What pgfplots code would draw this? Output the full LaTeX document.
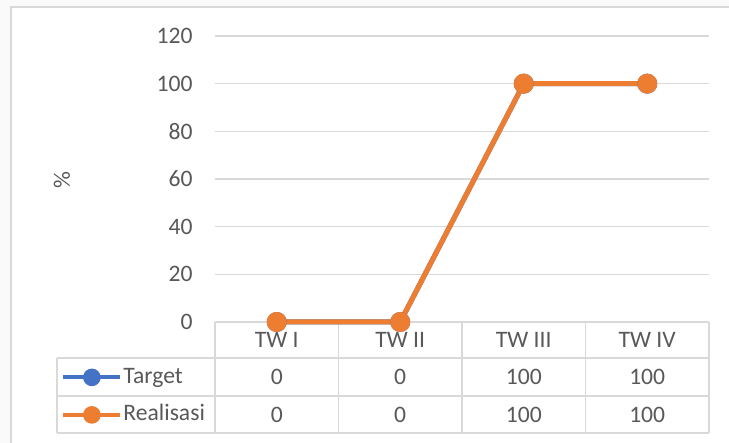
\documentclass[border=0pt]{standalone}
\usepackage{fontspec}
\setmainfont{Carlito}
\usepackage{pgfplots}
\pgfplotsset{compat=1.18}

\definecolor{xlblue}{HTML}{4472C4}
\definecolor{xlorange}{HTML}{ED7D31}
\definecolor{xlgrid}{HTML}{D9D9D9}
\definecolor{xltext}{HTML}{595959}
\definecolor{xlback}{HTML}{FAFAFA}

\newcommand{\xlfont}{\fontsize{11.8}{14}\selectfont}

\begin{document}
\begin{tikzpicture}
    \clip (0,0) rectangle (364.5pt,221.5pt);
    \fill[xlback] (0,0) rectangle (364.5pt,221.5pt);
    % chart frame
    \draw[xlgrid, line width=1pt, fill=white] (5.5pt,-10pt) rectangle (380pt,218pt);

    % data table grid
    \begin{scope}[x=1pt, y=1pt, xlgrid, line width=0.75pt]
        \draw (28.5,42.5) -- (354.5,42.5);
        \draw (28.5,23.5) -- (354.5,23.5);
        \draw (28.5,5) -- (354.5,5);
        \draw (28.5,42.5) -- (28.5,5);
        \foreach \x in {107.5,169.25,231,292.75,354.5}
            \draw (\x,60.5) -- (\x,5);
    \end{scope}

    % table values
    \begin{scope}[x=1pt, y=1pt, every node/.style={font=\xlfont, text=xltext, inner sep=0pt}]
        \foreach \x/\v in {138.4/0,200.1/0,261.9/100,323.6/100} {
            \node at (\x,33) {\v};
            \node at (\x,14.25) {\v};
        }
    \end{scope}

    \begin{axis}[
        at={(107.5pt,60.5pt)}, anchor=south west,
        scale only axis,
        width=247pt, height=143pt,
        xmin=0.5, xmax=4.5,
        ymin=0, ymax=120,
        xtick={1,2,3,4},
        xticklabels={TW I,TW II,TW III,TW IV},
        ytick={0,20,...,120},
        axis line style={draw=none},
        major tick length=0pt,
        ymajorgrids,
        grid style={xlgrid, line width=0.75pt},
        clip=false,
        tick label style={font=\xlfont, text=xltext},
        /pgf/number format/assume math mode=true,
        yticklabel style={anchor=east, inner sep=0pt, xshift=-11pt},
        xticklabel style={anchor=center, inner sep=0pt, yshift=-9pt},
        ylabel={\%},
        every axis y label/.style={at={(axis description cs:-0.31,0.497)}, rotate=90, anchor=center, font=\xlfont, text=xltext},
        legend cell align=left,
        legend style={
            at={(axis description cs:-0.3120,-0.1538)}, anchor=north west,
            draw=none, fill=none, inner sep=0pt,
            font=\xlfont, text=xltext,
            nodes={inner sep=0pt, text height=8.5pt, text depth=2.5pt},
            row sep=7.75pt, column sep=0.5pt,
        },
        legend image code/.code={
            \draw[mark repeat=2, mark phase=2, #1, line width=2pt, mark size=3.4pt]
                plot coordinates {(0pt,0pt) (14.3pt,0pt) (28.6pt,0pt)};
        },
    ]
        \addplot[xlblue, line width=2.5pt, line join=round, mark=*, mark size=3.75pt,
                 mark options={solid, fill=xlblue}]
            coordinates {(1,0) (2,0) (3,100) (4,100)};
        \addlegendentry{Target}
        \addplot[xlorange, line width=2.5pt, line join=round, mark=*, mark size=3.75pt,
                 mark options={solid, fill=xlorange}]
            coordinates {(1,0) (2,0) (3,100) (4,100)};
        \addlegendentry{Realisasi}
    \end{axis}
\end{tikzpicture}
\end{document}
